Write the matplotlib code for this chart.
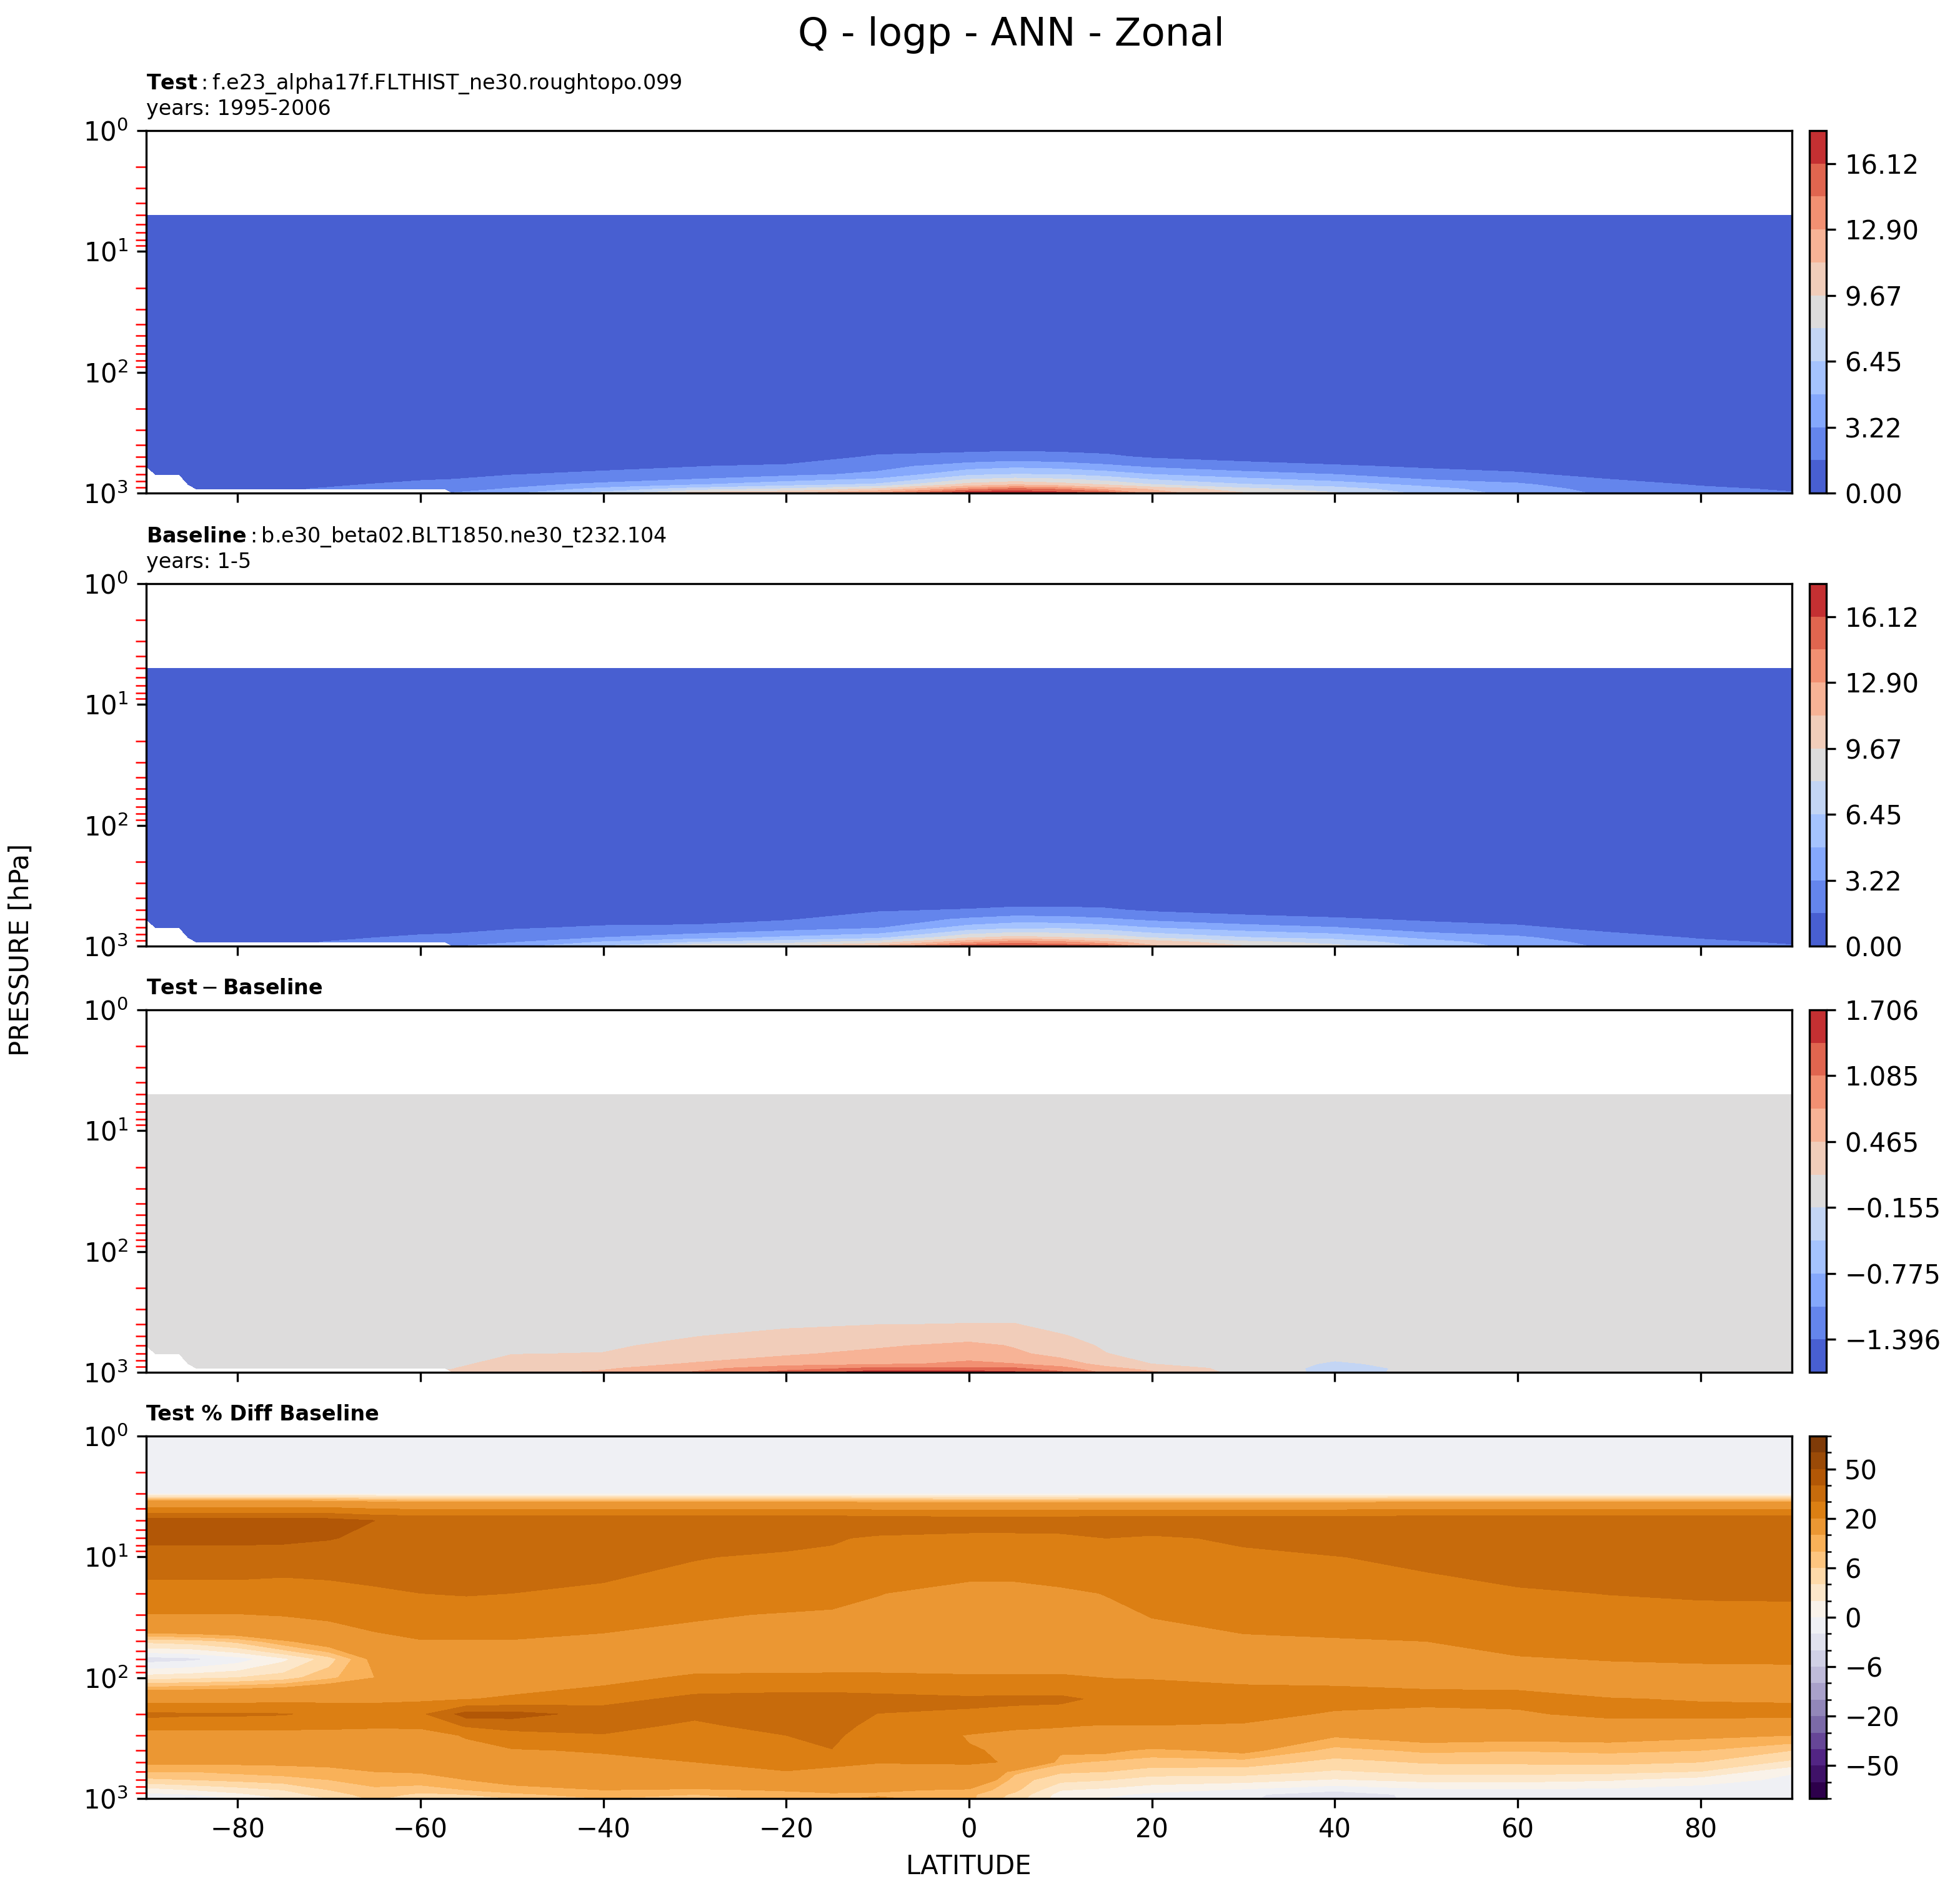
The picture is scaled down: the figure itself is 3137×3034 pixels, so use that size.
import numpy as np
import matplotlib
matplotlib.use("Agg")
import matplotlib.pyplot as plt
import matplotlib.colors as mcolors
from matplotlib.ticker import FuncFormatter

nan = np.nan

# ---- grids -------------------------------------------------------------
lat_q = [-90, -89, -86.4, -85.4, -84.5, -80, -70, -60, -57.3, -56.4, -50, -40, -30,
         -20, -10, 0, 5, 10, 15, 20, 30, 40, 50, 60, 70, 80, 90]
lev_q = [5, 7, 10, 20, 30, 50, 70, 100, 150, 200, 250, 300, 400, 500, 600, 700, 850, 925, 1000]

# test Q [g/kg], one list per latitude (top -> surface)
q_test_cols = [
    [0.004, 0.004, 0.004, 0.004, 0.004, 0.004, 0.004, 0.005, 0.008, 0.010, 0.015, 0.02, 0.05, 0.12, 0.20, nan, nan, nan, nan],
    [0.004, 0.004, 0.004, 0.004, 0.004, 0.004, 0.004, 0.005, 0.008, 0.010, 0.015, 0.02, 0.05, 0.13, 0.22, 0.35, nan, nan, nan],
    [0.004, 0.004, 0.004, 0.004, 0.004, 0.004, 0.004, 0.005, 0.008, 0.010, 0.015, 0.02, 0.06, 0.14, 0.25, 0.40, nan, nan, nan],
    [0.004, 0.004, 0.004, 0.004, 0.004, 0.004, 0.004, 0.005, 0.008, 0.010, 0.015, 0.02, 0.06, 0.15, 0.27, 0.45, 0.70, nan, nan],
    [0.004, 0.004, 0.004, 0.004, 0.004, 0.004, 0.004, 0.005, 0.008, 0.010, 0.016, 0.025, 0.07, 0.16, 0.30, 0.50, 0.80, 1.00, nan],
    [0.004, 0.004, 0.004, 0.004, 0.004, 0.004, 0.004, 0.005, 0.008, 0.011, 0.018, 0.03, 0.08, 0.20, 0.35, 0.60, 0.95, 1.20, nan],
    [0.004, 0.004, 0.004, 0.004, 0.004, 0.004, 0.004, 0.005, 0.009, 0.013, 0.022, 0.04, 0.12, 0.30, 0.50, 0.80, 1.40, 1.75, nan],
    [0.004, 0.004, 0.004, 0.004, 0.004, 0.004, 0.004, 0.005, 0.010, 0.016, 0.030, 0.06, 0.20, 0.45, 0.75, 1.10, 1.97, 2.60, nan],
    [0.004, 0.004, 0.004, 0.004, 0.004, 0.004, 0.004, 0.005, 0.010, 0.017, 0.034, 0.07, 0.22, 0.50, 0.80, 1.20, 2.05, 2.70, nan],
    [0.004, 0.004, 0.004, 0.004, 0.004, 0.004, 0.004, 0.005, 0.010, 0.017, 0.035, 0.07, 0.23, 0.50, 0.82, 1.22, 2.08, 2.75, 3.30],
    [0.004, 0.004, 0.004, 0.004, 0.004, 0.004, 0.004, 0.005, 0.011, 0.020, 0.042, 0.09, 0.27, 0.60, 1.00, 1.55, 2.84, 3.35, 4.60],
    [0.004, 0.004, 0.004, 0.004, 0.004, 0.004, 0.004, 0.004, 0.012, 0.025, 0.055, 0.12, 0.35, 0.75, 1.20, 1.95, 3.55, 5.40, 7.00],
    [0.004, 0.004, 0.004, 0.004, 0.004, 0.004, 0.004, 0.004, 0.013, 0.030, 0.070, 0.16, 0.45, 0.95, 1.58, 2.00, 4.70, 7.10, 10.5],
    [0.004, 0.004, 0.004, 0.004, 0.004, 0.004, 0.003, 0.004, 0.014, 0.032, 0.075, 0.16, 0.45, 0.90, 1.80, 2.80, 5.80, 8.30, 11.0],
    [0.004, 0.004, 0.004, 0.004, 0.004, 0.003, 0.003, 0.004, 0.020, 0.060, 0.160, 0.38, 1.00, 1.75, 2.70, 3.57, 6.75, 10.0, 13.3],
    [0.004, 0.004, 0.004, 0.004, 0.004, 0.003, 0.003, 0.004, 0.022, 0.065, 0.170, 0.40, 1.03, 2.00, 4.04, 6.09, 10.3, 13.64, 17.5],
    [0.004, 0.004, 0.004, 0.004, 0.004, 0.003, 0.003, 0.004, 0.022, 0.065, 0.165, 0.38, 1.00, 2.21, 4.46, 6.49, 11.1, 14.96, 17.7],
    [0.004, 0.004, 0.004, 0.004, 0.004, 0.003, 0.003, 0.004, 0.021, 0.063, 0.160, 0.38, 1.00, 2.05, 4.14, 6.40, 10.4, 14.2, 16.9],
    [0.004, 0.004, 0.004, 0.004, 0.004, 0.003, 0.003, 0.004, 0.019, 0.055, 0.140, 0.32, 0.90, 1.85, 3.56, 5.73, 9.50, 12.2, 15.9],
    [0.004, 0.004, 0.004, 0.004, 0.004, 0.004, 0.003, 0.004, 0.016, 0.045, 0.110, 0.25, 0.70, 1.40, 2.95, 4.84, 8.10, 11.1, 12.0],
    [0.004, 0.004, 0.004, 0.004, 0.004, 0.004, 0.004, 0.004, 0.014, 0.035, 0.085, 0.20, 0.55, 1.15, 2.10, 3.97, 6.60, 8.56, 9.85],
    [0.004, 0.004, 0.004, 0.004, 0.004, 0.004, 0.004, 0.005, 0.013, 0.030, 0.070, 0.16, 0.45, 0.95, 1.75, 3.22, 5.65, 7.23, 8.27],
    [0.004, 0.004, 0.004, 0.004, 0.004, 0.004, 0.004, 0.005, 0.012, 0.025, 0.055, 0.12, 0.33, 0.70, 1.45, 2.09, 4.40, 5.40, 6.00],
    [0.004, 0.004, 0.004, 0.004, 0.004, 0.004, 0.004, 0.005, 0.011, 0.020, 0.042, 0.09, 0.25, 0.55, 1.20, 1.80, 3.49, 4.00, 4.30],
    [0.004, 0.004, 0.004, 0.004, 0.004, 0.004, 0.004, 0.005, 0.010, 0.016, 0.030, 0.06, 0.15, 0.35, 0.75, 1.20, 2.10, 2.60, 2.90],
    [0.004, 0.004, 0.004, 0.004, 0.004, 0.004, 0.004, 0.005, 0.009, 0.013, 0.022, 0.04, 0.10, 0.22, 0.50, 0.90, 1.50, 1.85, 2.00],
    [0.004, 0.004, 0.004, 0.004, 0.004, 0.004, 0.004, 0.005, 0.008, 0.011, 0.018, 0.03, 0.08, 0.18, 0.40, 0.70, 1.20, 1.45, 1.70],
]

# test - baseline [g/kg], same layout
q_diff_cols = [
    [0.0, 0.0, 0.0, 0.0, 0.0, 0.0, 0.0, 0.0, 0.0, 0.0, 0.0, 0.00, 0.01, 0.02, 0.03, 0.03, 0.03, 0.03, 0.03],
    [0.0, 0.0, 0.0, 0.0, 0.0, 0.0, 0.0, 0.0, 0.0, 0.0, 0.0, 0.00, 0.01, 0.02, 0.03, 0.03, 0.03, 0.03, 0.03],
    [0.0, 0.0, 0.0, 0.0, 0.0, 0.0, 0.0, 0.0, 0.0, 0.0, 0.0, 0.00, 0.01, 0.02, 0.03, 0.03, 0.03, 0.03, 0.03],
    [0.0, 0.0, 0.0, 0.0, 0.0, 0.0, 0.0, 0.0, 0.0, 0.0, 0.0, 0.00, 0.01, 0.02, 0.03, 0.03, 0.04, 0.04, 0.04],
    [0.0, 0.0, 0.0, 0.0, 0.0, 0.0, 0.0, 0.0, 0.0, 0.0, 0.0, 0.00, 0.01, 0.02, 0.03, 0.04, 0.05, 0.06, 0.06],
    [0.0, 0.0, 0.0, 0.0, 0.0, 0.0, 0.0, 0.0, 0.0, 0.0, 0.0, 0.00, 0.01, 0.02, 0.03, 0.04, 0.06, 0.07, 0.07],
    [0.0, 0.0, 0.0, 0.0, 0.0, 0.0, 0.0, 0.0, 0.0, 0.0, 0.0, 0.01, 0.02, 0.03, 0.04, 0.05, 0.07, 0.08, 0.08],
    [0.0, 0.0, 0.0, 0.0, 0.0, 0.0, 0.0, 0.0, 0.0, 0.0, 0.0, 0.01, 0.02, 0.04, 0.05, 0.07, 0.10, 0.12, 0.12],
    [0.0, 0.0, 0.0, 0.0, 0.0, 0.0, 0.0, 0.0, 0.0, 0.0, 0.0, 0.01, 0.03, 0.05, 0.07, 0.09, 0.12, 0.14, 0.14],
    [0.0, 0.0, 0.0, 0.0, 0.0, 0.0, 0.0, 0.0, 0.0, 0.0, 0.0, 0.01, 0.03, 0.05, 0.07, 0.09, 0.12, 0.15, 0.18],
    [0.0, 0.0, 0.0, 0.0, 0.0, 0.0, 0.0, 0.0, 0.0, 0.0, 0.01, 0.02, 0.05, 0.08, 0.12, 0.15, 0.22, 0.30, 0.35],
    [0.0, 0.0, 0.0, 0.0, 0.0, 0.0, 0.0, 0.0, 0.0, 0.0, 0.01, 0.03, 0.06, 0.10, 0.13, 0.16, 0.30, 0.42, 0.52],
    [0.0, 0.0, 0.0, 0.0, 0.0, 0.0, 0.0, 0.0, 0.0, 0.01, 0.02, 0.05, 0.10, 0.15, 0.20, 0.26, 0.50, 0.68, 0.80],
    [0.0, 0.0, 0.0, 0.0, 0.0, 0.0, 0.0, 0.0, 0.0, 0.01, 0.03, 0.07, 0.13, 0.20, 0.30, 0.42, 0.65, 0.95, 1.20],
    [0.0, 0.0, 0.0, 0.0, 0.0, 0.0, 0.0, 0.0, 0.01, 0.02, 0.04, 0.08, 0.15, 0.30, 0.42, 0.55, 0.72, 1.15, 1.60],
    [0.0, 0.0, 0.0, 0.0, 0.0, 0.0, 0.0, 0.0, 0.01, 0.02, 0.04, 0.09, 0.16, 0.33, 0.55, 0.65, 0.83, 1.15, 1.55],
    [0.0, 0.0, 0.0, 0.0, 0.0, 0.0, 0.0, 0.0, 0.01, 0.02, 0.04, 0.09, 0.16, 0.32, 0.44, 0.52, 0.78, 1.12, 1.45],
    [0.0, 0.0, 0.0, 0.0, 0.0, 0.0, 0.0, 0.0, 0.01, 0.02, 0.03, 0.06, 0.10, 0.17, 0.26, 0.36, 0.62, 0.88, 1.15],
    [0.0, 0.0, 0.0, 0.0, 0.0, 0.0, 0.0, 0.0, 0.0, 0.01, 0.02, 0.03, 0.06, 0.09, 0.12, 0.16, 0.35, 0.55, 0.70],
    [0.0, 0.0, 0.0, 0.0, 0.0, 0.0, 0.0, 0.0, 0.0, 0.0, 0.01, 0.02, 0.03, 0.05, 0.07, 0.09, 0.15, 0.35, 0.52],
    [0.0, 0.0, 0.0, 0.0, 0.0, 0.0, 0.0, 0.0, 0.0, 0.0, 0.0, 0.01, 0.02, 0.02, 0.02, 0.02, 0.03, 0.04, 0.03],
    [0.0, 0.0, 0.0, 0.0, 0.0, 0.0, 0.0, 0.0, 0.0, 0.0, 0.0, 0.00, 0.00, -0.01, -0.02, -0.05, -0.20, -0.25, -0.24],
    [0.0, 0.0, 0.0, 0.0, 0.0, 0.0, 0.0, 0.0, 0.0, 0.0, 0.0, 0.00, 0.02, 0.01, 0.00, -0.02, -0.06, -0.09, -0.09],
    [0.0, 0.0, 0.0, 0.0, 0.0, 0.0, 0.0, 0.0, 0.0, 0.0, 0.0, 0.00, 0.01, 0.01, 0.00, -0.01, -0.02, -0.03, -0.03],
    [0.0, 0.0, 0.0, 0.0, 0.0, 0.0, 0.0, 0.0, 0.0, 0.0, 0.0, 0.00, 0.01, 0.01, 0.01, 0.00, -0.01, -0.01, -0.01],
    [0.0, 0.0, 0.0, 0.0, 0.0, 0.0, 0.0, 0.0, 0.0, 0.0, 0.0, 0.00, 0.00, 0.01, 0.01, 0.01, 0.00, 0.00, 0.00],
    [0.0, 0.0, 0.0, 0.0, 0.0, 0.0, 0.0, 0.0, 0.0, 0.0, 0.0, 0.00, 0.00, 0.00, 0.01, 0.01, 0.01, 0.00, 0.00],
]

# percent difference, own grid
lat_p = [-90, -85, -80, -75, -70, -65, -60, -55, -50, -40, -30, -20, -15, -10,
         0, 5, 10, 15, 20, 30, 40, 50, 60, 70, 80, 90]
lev_p = [1, 2, 3, 5, 7, 10, 20, 30, 50, 70, 100, 150, 200, 250, 300, 400, 500, 600, 700, 850, 925, 1000]
pct_cols = [
    [0, 0, 0, 45, 42, 36, 25, 19.8, 4.5, -3, 3, 16, 32, 25, 14, 12, 10.5, 8, 5.5, 1, -0.5, -1],
    [0, 0, 0, 45, 42, 36, 25, 19.8, 5, -2.5, 3.5, 16, 31, 25, 14, 12, 10.5, 8, 6, 2, 0, -3.5],
    [0, 0, 0, 45, 42, 36, 25, 19.8, 6.5, -1, 4, 16.5, 31, 25, 13, 11.5, 10.5, 8.5, 6.5, 3, 1.5, 0],
    [0, 0, 0, 45, 42, 35, 24.5, 20.5, 9.5, 1.5, 5, 17, 30.5, 25, 13, 11, 10.5, 9, 7, 4, 3, 2],
    [0, 0, 0, 44, 40.5, 35, 26, 22, 12, 5, 7.5, 17.5, 28, 24, 13, 11, 10.5, 9.5, 8, 6, 5, 4],
    [0, 0, 0, 40, 38, 34.5, 28.5, 23.5, 17.5, 11, 10, 18, 26, 22, 14, 12, 11, 10, 9, 7.5, 7, 6.5],
    [0, 0, 0, 38, 36, 34, 30, 25.5, 19.5, 14, 13, 18.5, 28, 22, 15, 12.5, 11.5, 10.2, 9, 7, 5.5, 4],
    [0, 0, 0, 38, 36.5, 34.5, 30.5, 26, 19.5, 14.5, 14, 19.5, 44, 31, 21, 16, 13.5, 11.5, 10, 8, 6, 4.5],
    [0, 0, 0, 38, 36.5, 34, 30, 25.5, 19.5, 15, 14.5, 21.5, 44, 33, 27, 19, 15, 12.5, 11, 9, 7.5, 6],
    [0, 0, 0, 38, 36, 33.5, 28, 23.5, 18, 15, 17, 26, 36, 32.5, 29.5, 21, 17, 15, 12.5, 10, 9, 8],
    [0, 0, 0, 38, 34, 30.5, 24, 20.8, 17, 15, 21.5, 33, 31.5, 28.5, 27, 24, 20, 17, 13.5, 9.5, 8, 7],
    [0, 0, 0, 38, 33, 28.5, 23.5, 19.5, 16, 13.5, 22.5, 34, 35, 33, 30, 26, 22, 19.8, 16, 10.3, 9, 8.5],
    [0, 0, 0, 38, 31, 28, 22, 19.2, 16, 14, 22.5, 34, 34.5, 33, 31.5, 29.8, 22, 18, 15, 11, 9.5, 9.5],
    [0, 0, 0, 37, 28.5, 27, 20.2, 18.5, 16, 14, 22.5, 33, 29.8, 27.5, 26, 23, 20.3, 17.5, 14.5, 10.5, 9.5, 10.5],
    [0, 0, 0, 36, 27, 23, 18, 17.5, 15, 14, 21.5, 31.5, 29, 24, 19.5, 20.5, 20.8, 17, 14.5, 9.5, 8.5, 8.5],
    [0, 0, 0, 36, 27, 23, 18, 17.5, 15.5, 14.5, 21.5, 32, 27, 21, 18.5, 19, 19.5, 8.5, 7, 6.5, 5.5, 5],
    [0, 0, 0, 36, 27.5, 23.5, 19, 17.5, 15.5, 14.5, 21.5, 32, 25.5, 20.5, 17.5, 10.8, 8.5, 6.3, 4.6, 2.1, 1.2, 1.0],
    [0, 0, 0, 37, 30, 27, 20.2, 18.5, 16, 15, 19.8, 28, 25, 19.5, 16.5, 10.8, 7.5, 6, 4.1, 1.5, 0.5, -0.2],
    [0, 0, 0, 37, 28.5, 27.5, 22.5, 20.3, 17.5, 16, 19.5, 26, 25, 19.8, 15, 9.2, 7, 5.1, 3, 0.8, -0.5, -0.8],
    [0, 0, 0, 37, 31.5, 28, 24.5, 22, 19, 16.5, 19, 22.5, 21.5, 19.5, 16, 10.8, 7, 5, 2.8, -0.3, -1.5, -1.5],
    [0, 0, 0, 37, 33, 29.8, 25, 22.5, 19.5, 17, 19.2, 21.5, 19.5, 14.5, 10.3, 7.2, 5.3, 3.7, 1.8, -1.5, -3.5, -4.2],
    [0, 0, 0, 38, 35, 31.5, 27, 24.5, 20, 17.5, 18.5, 21.5, 18.5, 15.5, 11.3, 8.4, 6.2, 4.6, 2.6, -0.5, -1.2, -1.0],
    [0, 0, 0, 38, 36, 33.5, 29, 26.5, 22, 19.5, 18.2, 21.5, 19.2, 16, 11, 8.1, 6.3, 4.7, 2.6, -0.3, -0.6, -0.5],
    [0, 0, 0, 38, 36, 34, 30.2, 27, 23, 20.3, 17, 20.2, 21.5, 17, 11.2, 8.4, 6.5, 4.5, 2.2, -0.5, -0.8, -0.5],
    [0, 0, 0, 38, 36, 34, 31, 27.5, 23.5, 20.8, 17, 19.7, 21.5, 17, 10.5, 8, 6, 3.9, 1.0, -1.0, -0.6, -0.4],
    [0, 0, 0, 38, 36, 34, 31, 28, 24, 21, 17, 19.5, 21.5, 16, 10, 6, 3.5, 0.2, -0.5, -0.8, -0.5, -0.3],
]

# contour levels
q_max = 17.7342
diff_lo, diff_hi = -1.7059, 1.70565
pct_levels = [-100, -75, -50, -40, -30, -20, -10, -8, -6, -4, -2, 0,
              2, 4, 6, 8, 10, 20, 30, 40, 50, 75, 100]
pct_ticks = [-50, -20, -6, 0, 6, 20, 50]

test_title = r"$\mathbf{Test}:$f.e23_alpha17f.FLTHIST_ne30.roughtopo.099" + "\nyears: 1995-2006"
base_title = r"$\mathbf{Baseline}:$b.e30_beta02.BLT1850.ne30_t232.104" + "\nyears: 1-5"

# ---- arrays ------------------------------------------------------------
q_test = np.array(q_test_cols, dtype=float).T
q_diff_in = np.array(q_diff_cols, dtype=float).T
q_base = q_test - q_diff_in
q_diff = q_test - q_base
pct = np.array(pct_cols, dtype=float).T

q_levels = np.linspace(0, q_max, 12)
diff_levels = np.linspace(diff_lo, diff_hi, 12)

# ---- figure ------------------------------------------------------------
W, H = 3137, 3034
fig = plt.figure(figsize=(W / 300, H / 300), dpi=300)

left = 234 / W
width = (2868 - 234) / W
cleft = 2896 / W
cwidth = 27 / W
ph = 580 / H
tops = [209, 934, 1616, 2298]


def style(ax, last=False):
    ax.set_yscale("log")
    ax.set_ylim(1000, 1)
    ax.set_xlim(-90, 90)
    ax.set_xticks([-80, -60, -40, -20, 0, 20, 40, 60, 80])
    ax.tick_params(axis="both", which="major", labelsize=10)
    ax.tick_params(axis="y", which="minor", color="r", length=4)
    if not last:
        ax.tick_params(labelbottom=False)


axes, caxes = [], []
for t in tops:
    y0 = 1 - (t + 580) / H
    axes.append(fig.add_axes([left, y0, width, ph]))
    caxes.append(fig.add_axes([cleft, y0, cwidth, ph]))

fmt2 = FuncFormatter(lambda v, p: f"{v:.2f}".replace("-", "\u2212"))
fmt3 = FuncFormatter(lambda v, p: f"{v:.3f}".replace("-", "\u2212"))

# panel 1: test
ax = axes[0]
cf = ax.contourf(lat_q, lev_q, q_test, levels=q_levels, cmap="coolwarm")
style(ax)
ax.set_title(test_title, loc="left", fontsize=8)
cb = fig.colorbar(cf, cax=caxes[0], ticks=q_levels[::2], format=fmt2)
cb.ax.tick_params(labelsize=10)

# panel 2: baseline
ax = axes[1]
cf = ax.contourf(lat_q, lev_q, q_base, levels=q_levels, cmap="coolwarm")
style(ax)
ax.set_title(base_title, loc="left", fontsize=8)
cb = fig.colorbar(cf, cax=caxes[1], ticks=q_levels[::2], format=fmt2)
cb.ax.tick_params(labelsize=10)

# panel 3: difference
ax = axes[2]
cf = ax.contourf(lat_q, lev_q, q_diff, levels=diff_levels, cmap="coolwarm")
style(ax)
ax.set_title(r"$\mathbf{Test} - \mathbf{Baseline}$", loc="left", fontsize=8)
cb = fig.colorbar(cf, cax=caxes[2], ticks=diff_levels[1::2], format=fmt3)
cb.ax.tick_params(labelsize=10)

# panel 4: percent difference
ax = axes[3]
pnorm = mcolors.BoundaryNorm(pct_levels, ncolors=256)
cf = ax.contourf(lat_p, lev_p, pct, levels=pct_levels, cmap="PuOr_r", norm=pnorm)
style(ax, last=True)
ax.set_title("Test % Diff Baseline", loc="left", fontsize=8, fontweight="bold")
ax.set_xlabel("LATITUDE", fontsize=10)
cb = fig.colorbar(cf, cax=caxes[3], ticks=pct_ticks)
cb.set_ticks([v for v in pct_levels if v not in pct_ticks], minor=True)
cb.ax.tick_params(labelsize=10)

fig.text(34 / W, 0.499, "PRESSURE [hPa]", rotation=90, ha="center", va="center", fontsize=10)
fig.text(0.516, 1 - 56 / H, "Q - logp - ANN - Zonal", ha="center", va="center", fontsize=15)

fig.savefig("out.png", dpi=300)
